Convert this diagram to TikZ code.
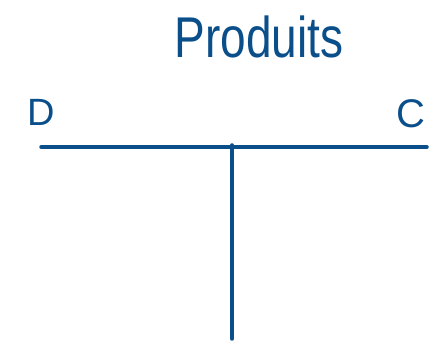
\documentclass[tikz,border=0pt]{standalone}
\usepackage{fontspec}
\setmainfont{Liberation Sans}
\definecolor{ink}{HTML}{0B4F8A}
\begin{document}
\begin{tikzpicture}[x=1pt,y=-1pt,
  lbl/.style={text=ink,inner sep=0pt,anchor=base},
  tline/.style={draw=ink,line width=3.5pt,line cap=round}]
\useasboundingbox (0,0) rectangle (431,344);
\node[lbl,font=\fontsize{46}{46}\selectfont,yscale=1.25] (title) at (259,58) {Produits};
\node[lbl,font=\fontsize{38}{38}\selectfont] (D) at (41,126) {D};
\node[lbl,font=\fontsize{40}{40}\selectfont] (C) at (411,128) {C};
\coordinate (hl) at (41,147);
\coordinate (hr) at (427,147);
\coordinate (vt) at (232,145);
\coordinate (vb) at (232,339);
\draw[tline] (hl) -- (hr);
\draw[tline] (vt) -- (vb);
\end{tikzpicture}
\end{document}
